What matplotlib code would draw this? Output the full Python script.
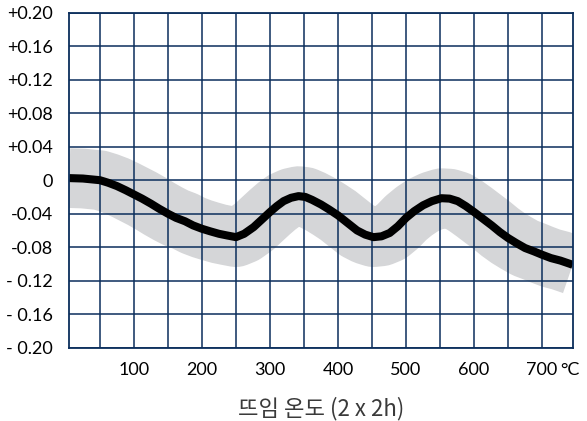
import matplotlib
matplotlib.use("Agg")
import matplotlib.pyplot as plt
import numpy as np

# temperature (°C) and deviation
temp = [5, 25, 50, 62, 75, 88, 100, 112, 125, 137, 150, 162, 175, 187,
        200, 212, 225, 237, 250, 262, 276, 288, 300, 310, 320, 331, 342,
        352, 362, 375, 387, 400, 414, 428, 440, 452, 464, 476, 488, 500,
        512, 525, 538, 552, 564, 576, 588, 600, 613, 626, 638, 650, 662,
        675, 688, 700, 713, 727, 745]
dev = [0.0025, 0.002, 0.0, -0.003, -0.007, -0.012, -0.017, -0.022, -0.028,
       -0.034, -0.040, -0.045, -0.049, -0.054, -0.058, -0.061, -0.064,
       -0.066, -0.068, -0.064, -0.056, -0.047, -0.038, -0.031, -0.025,
       -0.021, -0.019, -0.020, -0.0235, -0.029, -0.035, -0.042, -0.051,
       -0.060, -0.065, -0.068, -0.067, -0.063, -0.055, -0.045, -0.037,
       -0.030, -0.025, -0.0215, -0.022, -0.025, -0.031, -0.038, -0.046,
       -0.054, -0.062, -0.069, -0.075, -0.081, -0.085, -0.089, -0.093,
       -0.096, -0.101]

xticks = [100, 200, 300, 400, 500, 600, 700]
yticks = [0.20, 0.16, 0.12, 0.08, 0.04, 0, -0.04, -0.08, -0.12, -0.16, -0.20]
ylabels = ['+0.20', '+0.16', '+0.12', '+0.08', '+0.04', '0',
           '-0.04', '-0.08', '- 0.12', '- 0.16', '- 0.20']

grid_col = '#0b2e5c'
band_col = '#d5d6d8'

plt.rcParams['font.family'] = ['Lato', 'DejaVu Sans']

fig = plt.figure(figsize=(5.87, 4.21), dpi=100)
ax = fig.add_axes([69.3 / 587, 1 - 347.7 / 421, (572.7 - 69.3) / 587, (347.7 - 12.7) / 421])

# tolerance band drawn as a thick stroke, then the grid, then the curve
ax.plot(temp, dev, color=band_col, lw=43, solid_capstyle='butt',
        solid_joinstyle='round', zorder=1)
ax.plot(temp, dev, color='black', lw=5.8, solid_capstyle='butt',
        solid_joinstyle='round', zorder=3)

ax.set_xlim(5, 745)
ax.set_ylim(-0.2, 0.2)
grid_x = np.arange(50, 701, 50)
ax.set_xticks(grid_x)
ax.set_xticklabels([str(v) if v in xticks else '' for v in grid_x])
ax.set_yticks(yticks)
ax.set_yticklabels(ylabels)
ax.grid(True, color=grid_col, lw=1.1, zorder=2)
ax.set_axisbelow(False)
for s in ax.spines.values():
    s.set_color(grid_col)
    s.set_linewidth(1.3)
    s.set_zorder(4)
ax.tick_params(length=0, labelsize=13, colors='black', pad=12)
ax.tick_params(axis='x', pad=10)

fig.text(560 / 587, 1 - 370 / 421, '°C', ha='left', va='center', fontsize=13)
ax.set_xlabel('뜨임 온도 (2 x 2h)', fontsize=16, color='#3a3a3a', labelpad=14,
              family=['Noto Sans CJK KR', 'DejaVu Sans'])

fig.savefig('out.png', dpi=100)
